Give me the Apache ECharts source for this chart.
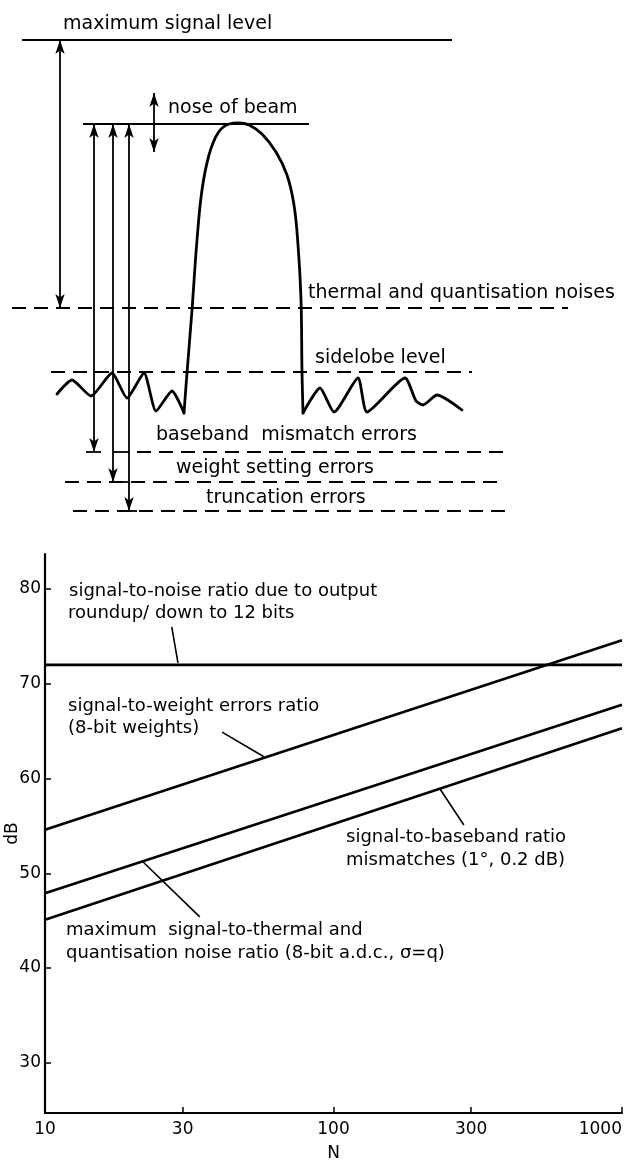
<!DOCTYPE html>
<html>
<head>
<meta charset="utf-8">
<script src="https://cdn.jsdelivr.net/npm/echarts@6/dist/echarts.min.js"></script>
<style>
  html, body { margin: 0; padding: 0; background: #fff; }
  #chart { width: 627px; height: 1161px; }
</style>
</head>
<body>
<div id="chart"></div>
<script>
// ---- lower plot: ratios in dB against N (log scale) ----
const nValues = [10, 1000];
const outputRoundingDb = [72.0, 72.0];
const weightErrorsDb = [54.6, 74.6];
const thermalNoiseDb = [47.9, 67.8];
const basebandDb = [45.1, 65.3];
const xTickValues = [10, 30, 100, 300, 1000];
const yTickValues = [30, 40, 50, 60, 70, 80];

// leader lines from captions to curves, [N, dB]
const leaderLines = [
  [[27.5, 76.0], [28.9, 72.2]],
  [[41.1, 64.9], [57.4, 62.3]],
  [[234, 58.9], [283, 55.1]],
  [[21.7, 51.3], [34.4, 45.4]],
];

// ---- upper sketch: beam pattern and error levels (sketch units, y grows downward) ----
const solidLevels = [
  [[22, 40], [452, 40]],   // maximum signal level
  [[83, 124], [309, 124]], // nose of beam
];
const dashedLevels = [
  [[12, 308], [568, 308]], // thermal and quantisation noises
  [[51, 372], [472, 372]], // sidelobe level
  [[137, 452], [510, 452]], // baseband mismatch errors
  [[65, 482], [504, 482]], // weight setting errors
  [[73, 511], [510, 511]], // truncation errors
];
const levelArrows = [
  [[60, 40], [60, 308]],
  [[94, 124], [94, 452]],
  [[113, 124], [113, 482]],
  [[129, 124], [129, 511]],
  [[154, 93], [154, 152]],
];
const arrowStops = [
  [[86, 452], [101, 452]],
  [[113, 452], [129, 452]],
  [[113, 482], [129, 482]],
  [[121, 511], [137, 511]],
];
const leftSidelobes = [
  [57, 394], [72, 380], [91, 396], [112, 373], [127, 398], [144, 373],
  [156, 411], [172, 391], [184, 413],
];
const mainLobe = [
  [184, 413], [187, 373], [192, 310], [197, 240], [202, 190], [209, 155],
  [218, 133], [229, 124], [239, 123], [249, 125], [262, 134], [276, 152],
  [287, 175], [294, 205], [298, 245], [301, 300], [302, 372], [303, 413],
];
const rightSidelobes = [
  [303, 413], [320, 388], [334, 412], [358, 378], [367, 412], [405, 378],
  [416, 401], [423, 405], [437, 395], [462, 410],
];

// captions: [text, x, y] in page pixels
const sketchCaptions = [
  ['maximum signal level', 63, 24],
  ['nose of beam', 168, 108],
  ['thermal and quantisation noises', 308, 293],
  ['sidelobe level', 315, 358],
  ['baseband  mismatch errors', 156, 435],
  ['weight setting errors', 176, 468],
  ['truncation errors', 206, 498],
];
const plotCaptions = [
  ['signal-to-noise ratio due to output', 69, 591],
  ['roundup/ down to 12 bits', 68, 613],
  ['signal-to-weight errors ratio', 68, 706],
  ['(8-bit weights)', 68, 728],
  ['signal-to-baseband ratio', 346, 837],
  ['mismatches (1°, 0.2 dB)', 346, 860],
  ['maximum  signal-to-thermal and', 66, 930],
  ['quantisation noise ratio (8-bit a.d.c., σ=q)', 66, 953],
];

const FONT = '"DejaVu Sans", sans-serif';
const INK = '#000';

function toPairs(ys) {
  return nValues.map((n, i) => [Math.log10(n), ys[i]]);
}

function plotLine(name, ys) {
  return {
    name,
    type: 'line',
    xAxisIndex: 1,
    yAxisIndex: 1,
    data: toPairs(ys),
    showSymbol: false,
    silent: true,
    lineStyle: { color: INK, width: 2.6 },
  };
}

function beamPart(name, points, smooth) {
  return {
    name,
    type: 'line',
    xAxisIndex: 0,
    yAxisIndex: 0,
    data: points,
    showSymbol: false,
    silent: true,
    smooth,
    lineStyle: { color: INK, width: 2.8, cap: 'round', join: 'round' },
  };
}

function sketchLines(name, segments, style, extra) {
  return Object.assign({
    name,
    type: 'lines',
    coordinateSystem: 'cartesian2d',
    xAxisIndex: 0,
    yAxisIndex: 0,
    silent: true,
    symbol: ['none', 'none'],
    data: segments.map((coords) => ({ coords })),
    lineStyle: Object.assign({ color: INK, width: 2, opacity: 1 }, style),
  }, extra || {});
}

function captionElements(list, size) {
  return list.map(([text, x, y]) => ({
    type: 'text',
    x,
    y,
    silent: true,
    style: {
      text,
      fill: INK,
      font: size + 'px ' + FONT,
      align: 'left',
      verticalAlign: 'middle',
    },
  }));
}

const option = {
  animation: false,
  backgroundColor: '#fff',
  grid: [
    { left: 0, top: 0, width: 627, height: 530, outerBoundsMode: 'none', containLabel: false },
    { left: 45, top: 554, width: 577, height: 559, outerBoundsMode: 'none', containLabel: false },
  ],
  xAxis: [
    { gridIndex: 0, type: 'value', min: 0, max: 627, show: false },
    {
      gridIndex: 1,
      type: 'value',
      min: 1,
      max: 3,
      name: 'N',
      nameLocation: 'middle',
      nameGap: 32,
      nameMoveOverlap: false,
      nameTextStyle: { color: INK, fontFamily: FONT, fontSize: 17 },
      axisLine: { onZero: false, lineStyle: { color: INK, width: 2.2 } },
      axisTick: {
        inside: true,
        length: 6,
        lineStyle: { color: INK, width: 1.5 },
        customValues: xTickValues.map(Math.log10),
      },
      axisLabel: {
        color: INK,
        fontFamily: FONT,
        fontSize: 17,
        margin: 8,
        hideOverlap: false,
        alignMaxLabel: 'right',
        customValues: xTickValues.map(Math.log10),
        formatter: (v) => String(Math.round(Math.pow(10, v))),
      },
      splitLine: { show: false },
    },
  ],
  yAxis: [
    { gridIndex: 0, type: 'value', min: 0, max: 530, inverse: true, show: false },
    {
      gridIndex: 1,
      type: 'value',
      min: 24.7,
      max: 83.7,
      name: 'dB',
      nameLocation: 'middle',
      nameGap: 24,
      nameRotate: 90,
      nameMoveOverlap: false,
      nameTextStyle: { color: INK, fontFamily: FONT, fontSize: 17 },
      axisLine: { show: true, onZero: false, lineStyle: { color: INK, width: 2.2 } },
      axisTick: {
        show: true,
        inside: true,
        length: 6,
        lineStyle: { color: INK, width: 1.5 },
        customValues: yTickValues,
      },
      axisLabel: {
        color: INK,
        fontFamily: FONT,
        fontSize: 17,
        margin: 4,
        customValues: yTickValues,
      },
      splitLine: { show: false },
    },
  ],
  series: [
    sketchLines('levels', solidLevels, { width: 2.2 }),
    sketchLines('dashed levels', dashedLevels, { width: 2.2, type: [14, 8] }),
    sketchLines('arrows', levelArrows, { width: 1.8 }, {
      symbol: ['arrow', 'arrow'],
      symbolSize: [[7, 14], [7, 14]],
    }),
    sketchLines('stops', arrowStops, { width: 1.8 }),
    beamPart('left sidelobes', leftSidelobes, 0.2),
    beamPart('main lobe', mainLobe, 0.4),
    beamPart('right sidelobes', rightSidelobes, 0.2),
    plotLine('output roundup/down to 12 bits', outputRoundingDb),
    plotLine('signal-to-weight errors', weightErrorsDb),
    plotLine('signal-to-thermal and quantisation noise', thermalNoiseDb),
    plotLine('signal-to-baseband mismatches', basebandDb),
    {
      name: 'leaders',
      type: 'lines',
      coordinateSystem: 'cartesian2d',
      xAxisIndex: 1,
      yAxisIndex: 1,
      silent: true,
      symbol: ['none', 'none'],
      data: leaderLines.map((pair) => ({
        coords: pair.map(([n, db]) => [Math.log10(n), db]),
      })),
      lineStyle: { color: INK, width: 1.6, opacity: 1 },
    },
  ],
  graphic: {
    elements: captionElements(sketchCaptions, 19).concat(captionElements(plotCaptions, 18)),
  },
};

const myChart = echarts.init(document.getElementById('chart'), null, { renderer: 'canvas' });
myChart.setOption(option);
</script>
</body>
</html>
